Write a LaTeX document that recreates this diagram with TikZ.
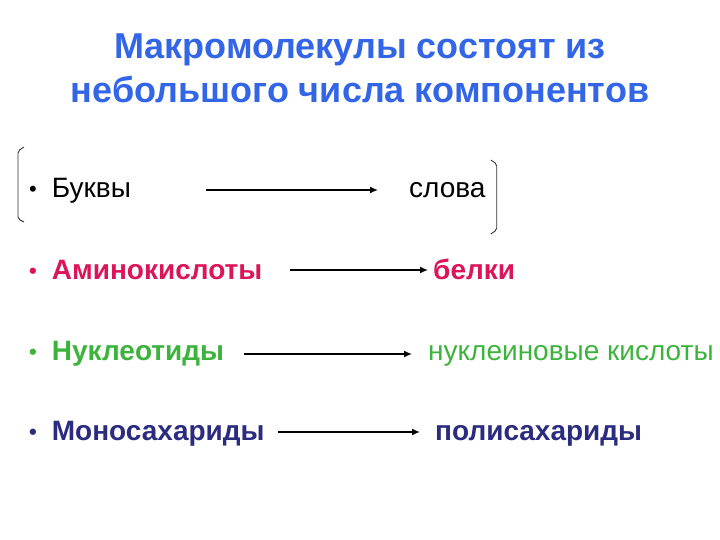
\documentclass[tikz,border=0pt]{standalone}
\usepackage{fontspec}
\setmainfont{Liberation Sans}
\usepackage{xcolor}
\usetikzlibrary{arrows.meta, positioning, calc}

\definecolor{titleblue}{RGB}{51,102,230}
\definecolor{aminored}{RGB}{220,20,90}
\definecolor{nuclgreen}{RGB}{60,180,60}
\definecolor{sugarblue}{RGB}{43,43,128}

\newcommand{\itembullet}{\raisebox{1pt}{\fontsize{22}{22}\selectfont•}\hspace{15pt}}

\begin{document}
\begin{tikzpicture}[
    x=1pt, y=-1pt,
    title/.style={font=\fontsize{36}{44}\selectfont\bfseries, text=titleblue, anchor=base, inner sep=0pt},
    item/.style={font=\fontsize{28}{32}\selectfont, anchor=base west, inner sep=0pt},
    bold/.style={item, font=\fontsize{28}{32}\selectfont\bfseries},
    arrow/.style={-{Latex[length=8pt,width=7pt]}, line width=1.5pt},
    bracket/.style={draw=black!80, line width=0.9pt, rounded corners=2pt}
]
\useasboundingbox (0,0) rectangle (720,540);

% Title
\node[title] (head1) at (360,59) {Макромолекулы состоят из};
\node[title] (head2) at (360,103) {небольшого числа компонентов};

% Letters -> words
\node[item] (bukvy) at (29,197) {\itembullet Буквы};
\node[item] (slova) at (409,197) {слова};

% Amino acids -> proteins
\node[bold, text=aminored] (amino) at (29,279) {\itembullet Аминокислоты};
\node[bold, text=aminored] (belki) at (433,279) {белки};

% Nucleotides -> nucleic acids
\node[bold, text=nuclgreen] (nukleo) at (29,360) {\itembullet Нуклеотиды};
\node[item, text=nuclgreen] (nuklkisl) at (428,360) {нуклеиновые кислоты};

% Monosaccharides -> polysaccharides
\node[bold, text=sugarblue] (mono) at (29,440) {\itembullet Моносахариды};
\node[bold, text=sugarblue] (poli) at (435,440) {полисахариды};

% Arrows
\draw[arrow] ($(bukvy.base east)+(75,-7)$) -- ($(slova.base west)+(-31,-7)$);
\draw[arrow] ($(amino.base east)+(27,-9)$) -- ($(belki.base west)+(-5,-9)$);
\draw[arrow] ($(nukleo.base east)+(20,-6)$) -- ($(nuklkisl.base west)+(-16,-6)$);
\draw[arrow] ($(mono.base east)+(13,-8)$) -- ($(poli.base west)+(-15,-8)$);

% Brackets
\draw[bracket] ($(bukvy.base west)+(-5,-50)$) -- ($(bukvy.base west)+(-11,-46)$) -- ($(bukvy.base west)+(-11,22)$) -- ($(bukvy.base west)+(-5,25)$);
\draw[bracket] ($(slova.base east)+(5,-37)$) -- ($(slova.base east)+(11,-33)$) -- ($(slova.base east)+(11,33)$) -- ($(slova.base east)+(5,37)$);
\end{tikzpicture}
\end{document}
